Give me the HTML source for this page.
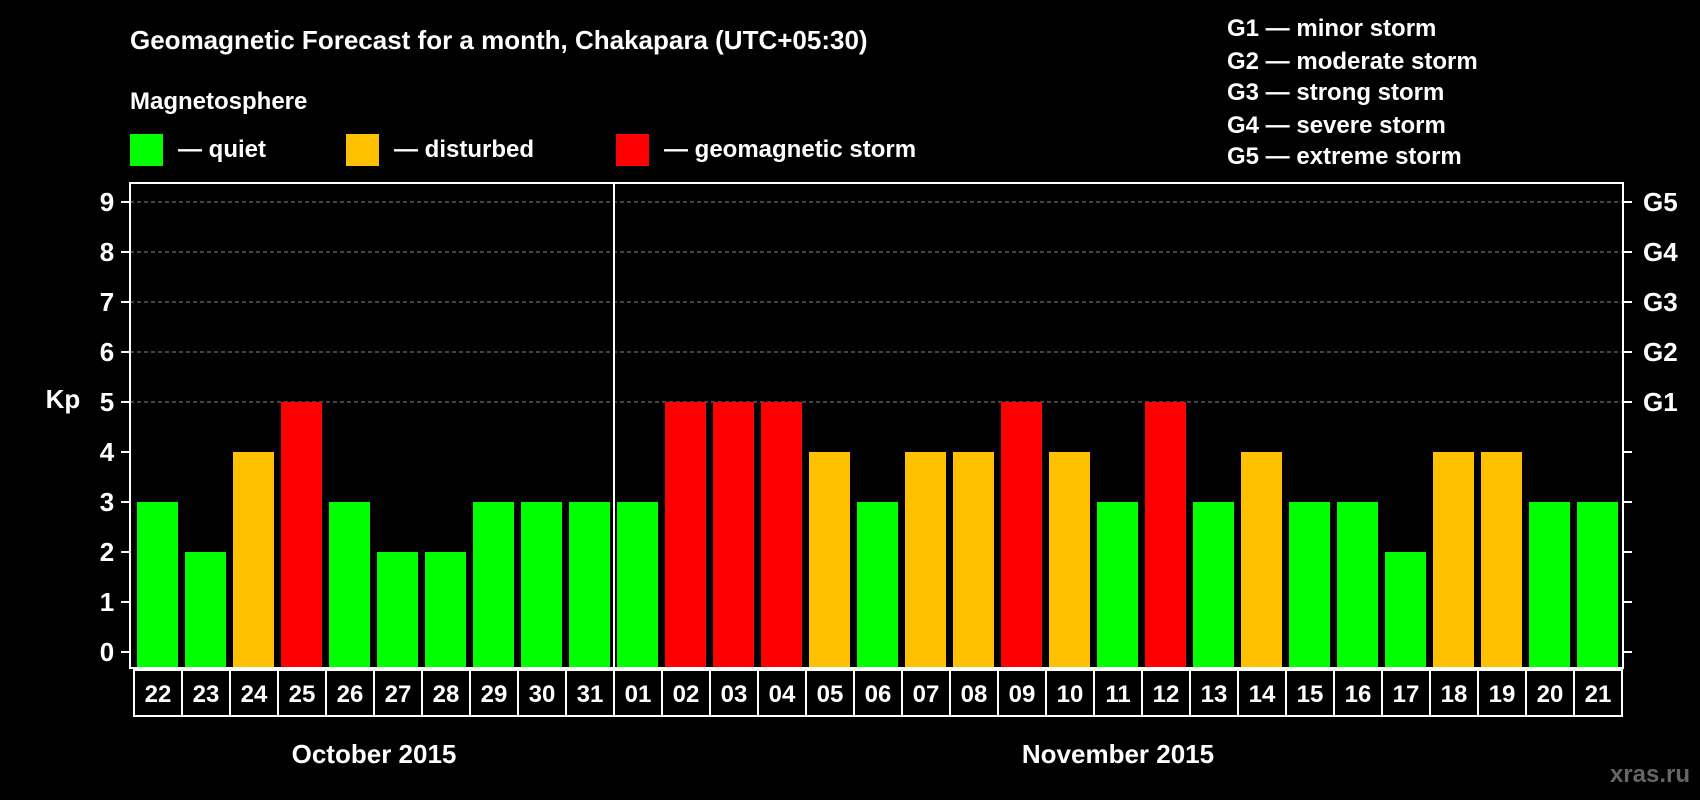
<!DOCTYPE html>
<html><head><meta charset="utf-8"><style>
body{margin:0;background:#000;width:1700px;height:800px;overflow:hidden}
svg{display:block;font-family:"Liberation Sans",Arial,sans-serif;font-weight:bold}
</style></head><body>
<svg id="chart" width="1700" height="800" viewBox="0 0 1700 800">
<rect width="1700" height="800" fill="#000"/>
<text x="130" y="49" fill="#fff" font-size="26">Geomagnetic Forecast for a month, Chakapara (UTC+05:30)</text>
<text x="130" y="109" fill="#fff" font-size="24">Magnetosphere</text>
<g><rect x="130" y="134" width="33" height="32" fill="#00ff00"/><text x="178" y="157" fill="#fff" font-size="24">— quiet</text></g>
<g><rect x="346" y="134" width="33" height="32" fill="#ffc000"/><text x="394" y="157" fill="#fff" font-size="24">— disturbed</text></g>
<g><rect x="616" y="134" width="33" height="32" fill="#ff0000"/><text x="664" y="157" fill="#fff" font-size="24">— geomagnetic storm</text></g>
<g fill="#fff" font-size="24">
<text x="1227" y="36">G1 — minor storm</text>
<text x="1227" y="69">G2 — moderate storm</text>
<text x="1227" y="100">G3 — strong storm</text>
<text x="1227" y="133">G4 — severe storm</text>
<text x="1227" y="164">G5 — extreme storm</text>
</g>
<g id="grid"></g><g id="bars"></g><g id="axes"></g>
<text x="63" y="408" fill="#fff" font-size="26" text-anchor="middle">Kp</text>
<text x="374" y="763" fill="#fff" font-size="26" text-anchor="middle">October 2015</text>
<text x="1118" y="763" fill="#fff" font-size="26" text-anchor="middle">November 2015</text>
<text x="1690" y="782" fill="#666" font-size="24" text-anchor="end">xras.ru</text>
</svg>
<script>
const days=["22","23","24","25","26","27","28","29","30","31","01","02","03","04","05","06","07","08","09","10","11","12","13","14","15","16","17","18","19","20","21"];
const kp=[3,2,4,5,3,2,2,3,3,3,3,5,5,5,4,3,4,4,5,4,3,5,3,4,3,3,2,4,4,3,3];
const yTicks=[0,1,2,3,4,5,6,7,8,9];
const gLabels={5:"G1",6:"G2",7:"G3",8:"G4",9:"G5"};
const NS="http://www.w3.org/2000/svg";
const L=130,R=1623,T=183,B=668,X0=134,CW=48;
const y=v=>652-v*50;
const x=i=>X0+i*CW;
function mk(t,a,p){const e=document.createElementNS(NS,t);for(const k in a)e.setAttribute(k,a[k]);p.appendChild(e);return e;}
const grid=document.getElementById('grid'),bars=document.getElementById('bars'),axes=document.getElementById('axes');
yTicks.forEach(v=>{
  if(v>=5){const g=mk('line',{x1:L,x2:R,y1:y(v),y2:y(v),stroke:'#888','stroke-dasharray':'4,3','stroke-width':1},grid);
  
  }
  mk('line',{x1:L-9,x2:L,y1:y(v),y2:y(v),stroke:'#fff','stroke-width':2},axes);
  mk('line',{x1:R,x2:R+9,y1:y(v),y2:y(v),stroke:'#fff','stroke-width':2},axes);
  const t=mk('text',{x:107,y:y(v)+9,fill:'#fff','font-size':26,'text-anchor':'middle'},axes);t.textContent=v;
  
  
  if(gLabels[v]){const g=mk('text',{x:1643,y:y(v)+9,fill:'#fff','font-size':26},axes);g.textContent=gLabels[v];
  
  }
});
kp.forEach((v,i)=>{
  const c=v>=5?'#ff0000':(v>=4?'#ffc000':'#00ff00');
  const r=mk('rect',{x:x(i)+3,y:y(v),width:41,height:B-y(v),fill:c},bars);
  
  
  const b=mk('rect',{x:x(i),y:670,width:CW,height:46,fill:'none',stroke:'#fff','stroke-width':2},axes);
  
  
  const t=mk('text',{x:x(i)+CW/2,y:702,fill:'#fff','font-size':24,'text-anchor':'middle'},axes);t.textContent=days[i];
  
  
});
const f=mk('rect',{x:L,y:T,width:R-L,height:B-T,fill:'none',stroke:'#fff','stroke-width':2},axes);


const d=mk('line',{x1:x(10),x2:x(10),y1:T,y2:B,stroke:'#fff','stroke-width':2},axes);


</script>
</body></html>
